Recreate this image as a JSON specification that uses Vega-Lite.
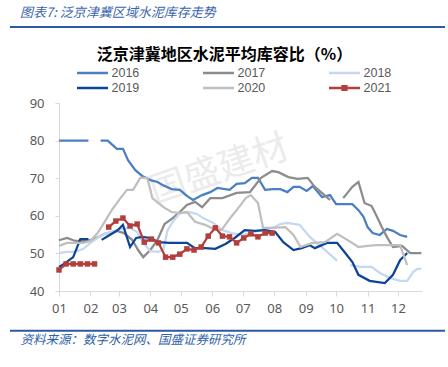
{
"$schema":"https://vega.github.io/schema/vega-lite/v6.json",
"width":363,"height":188,
"autosize":{"type":"none"},
"padding":{"left":59,"top":103,"right":26,"bottom":76},
"background":"white",
"config":{"view":{"stroke":null},"font":"Noto Sans","axis":{"labelOverlap":false,"labelSeparation":0}},
"data":{"values":[
{"year":"2016","d":0,"v":80},{"year":"2016","d":29,"v":80},{"year":"2016","d":35,"v":null},{"year":"2016","d":41,"v":80},{"year":"2016","d":48,"v":80},{"year":"2016","d":57,"v":77.8},{"year":"2016","d":63,"v":77.8},{"year":"2016","d":68,"v":74.8},{"year":"2016","d":75,"v":72.2},{"year":"2016","d":82,"v":70.6},{"year":"2016","d":90,"v":69.5},{"year":"2016","d":97,"v":69.0},{"year":"2016","d":102,"v":68.2},{"year":"2016","d":111,"v":67.1},{"year":"2016","d":119,"v":66.9},{"year":"2016","d":126,"v":65.3},{"year":"2016","d":132,"v":64.2},{"year":"2016","d":141,"v":65.5},{"year":"2016","d":149,"v":66.3},{"year":"2016","d":156,"v":67.4},{"year":"2016","d":168,"v":66.9},{"year":"2016","d":175,"v":68.5},{"year":"2016","d":183,"v":68.7},{"year":"2016","d":190,"v":70.1},{"year":"2016","d":196,"v":70.1},{"year":"2016","d":203,"v":66.9},{"year":"2016","d":211,"v":67.1},{"year":"2016","d":218,"v":67.1},{"year":"2016","d":225,"v":66.3},{"year":"2016","d":231,"v":67.7},{"year":"2016","d":237,"v":67.7},{"year":"2016","d":244,"v":66.6},{"year":"2016","d":250,"v":67.9},{"year":"2016","d":259,"v":65.0},{"year":"2016","d":267,"v":65.5},{"year":"2016","d":273,"v":63.1},{"year":"2016","d":289,"v":63.1},{"year":"2016","d":295,"v":61.5},{"year":"2016","d":300,"v":59.7},{"year":"2016","d":304,"v":57.0},{"year":"2016","d":309,"v":55.4},{"year":"2016","d":316,"v":54.9},{"year":"2016","d":323,"v":56.5},{"year":"2016","d":329,"v":56.0},{"year":"2016","d":336,"v":54.9},{"year":"2016","d":343,"v":54.4},
{"year":"2017","d":0,"v":53.5},{"year":"2017","d":8,"v":54.1},{"year":"2017","d":16,"v":53.3},{"year":"2017","d":26,"v":53.3},{"year":"2017","d":35,"v":53.8},{"year":"2017","d":45,"v":55.2},{"year":"2017","d":57,"v":56.0},{"year":"2017","d":64,"v":55.4},{"year":"2017","d":72,"v":53.6},{"year":"2017","d":78,"v":50.9},{"year":"2017","d":83,"v":49.0},{"year":"2017","d":90,"v":50.9},{"year":"2017","d":97,"v":53.6},{"year":"2017","d":104,"v":57.8},{"year":"2017","d":112,"v":59.4},{"year":"2017","d":119,"v":61.0},{"year":"2017","d":126,"v":62.9},{"year":"2017","d":134,"v":63.7},{"year":"2017","d":141,"v":62.3},{"year":"2017","d":149,"v":64.7},{"year":"2017","d":161,"v":64.7},{"year":"2017","d":167,"v":65.3},{"year":"2017","d":175,"v":66.1},{"year":"2017","d":188,"v":66.3},{"year":"2017","d":193,"v":68.0},{"year":"2017","d":199,"v":70.1},{"year":"2017","d":210,"v":71.9},{"year":"2017","d":216,"v":71.6},{"year":"2017","d":226,"v":70.3},{"year":"2017","d":235,"v":69.8},{"year":"2017","d":245,"v":70.1},{"year":"2017","d":252,"v":67.7},{"year":"2017","d":259,"v":66.1},{"year":"2017","d":267,"v":64.2},{"year":"2017","d":274,"v":null},{"year":"2017","d":280,"v":64.7},{"year":"2017","d":289,"v":67.7},{"year":"2017","d":295,"v":69.0},{"year":"2017","d":301,"v":63.4},{"year":"2017","d":308,"v":62.6},{"year":"2017","d":313,"v":59.9},{"year":"2017","d":318,"v":57.0},{"year":"2017","d":323,"v":54.4},{"year":"2017","d":329,"v":51.7},{"year":"2017","d":338,"v":52.0},{"year":"2017","d":346,"v":50.1},{"year":"2017","d":357,"v":50.1},
{"year":"2018","d":0,"v":50.1},{"year":"2018","d":8,"v":50.4},{"year":"2018","d":16,"v":50.4},{"year":"2018","d":24,"v":51.2},{"year":"2018","d":31,"v":52.8},{"year":"2018","d":38,"v":54.1},{"year":"2018","d":45,"v":55.2},{"year":"2018","d":55,"v":56.0},{"year":"2018","d":62,"v":56.5},{"year":"2018","d":70,"v":56.8},{"year":"2018","d":77,"v":55.7},{"year":"2018","d":83,"v":52.8},{"year":"2018","d":90,"v":50.6},{"year":"2018","d":98,"v":50.4},{"year":"2018","d":103,"v":51.2},{"year":"2018","d":107,"v":56.2},{"year":"2018","d":112,"v":58.4},{"year":"2018","d":119,"v":60.7},{"year":"2018","d":129,"v":61.0},{"year":"2018","d":136,"v":60.5},{"year":"2018","d":142,"v":59.4},{"year":"2018","d":152,"v":58.1},{"year":"2018","d":161,"v":56.2},{"year":"2018","d":170,"v":55.4},{"year":"2018","d":180,"v":54.9},{"year":"2018","d":188,"v":55.4},{"year":"2018","d":196,"v":56.0},{"year":"2018","d":203,"v":56.5},{"year":"2018","d":211,"v":56.8},{"year":"2018","d":218,"v":57.8},{"year":"2018","d":225,"v":58.1},{"year":"2018","d":237,"v":57.6},{"year":"2018","d":247,"v":54.4},{"year":"2018","d":260,"v":51.4},{"year":"2018","d":274,"v":48.0},{"year":"2018","d":280,"v":null},{"year":"2018","d":287,"v":46.9},{"year":"2018","d":297,"v":46.4},{"year":"2018","d":308,"v":46.4},{"year":"2018","d":316,"v":44.8},{"year":"2018","d":326,"v":43.5},{"year":"2018","d":336,"v":42.7},{"year":"2018","d":343,"v":42.7},{"year":"2018","d":349,"v":45.1},{"year":"2018","d":353,"v":45.9},{"year":"2018","d":357,"v":45.9},
{"year":"2019","d":0,"v":46.4},{"year":"2019","d":6,"v":47.4},{"year":"2019","d":14,"v":49.0},{"year":"2019","d":21,"v":53.8},{"year":"2019","d":29,"v":53.8},{"year":"2019","d":35,"v":null},{"year":"2019","d":42,"v":53.6},{"year":"2019","d":50,"v":54.9},{"year":"2019","d":58,"v":56.2},{"year":"2019","d":63,"v":57.6},{"year":"2019","d":70,"v":51.7},{"year":"2019","d":76,"v":54.1},{"year":"2019","d":82,"v":54.4},{"year":"2019","d":90,"v":54.1},{"year":"2019","d":98,"v":53.0},{"year":"2019","d":109,"v":52.8},{"year":"2019","d":119,"v":52.8},{"year":"2019","d":126,"v":52.8},{"year":"2019","d":134,"v":51.4},{"year":"2019","d":144,"v":51.4},{"year":"2019","d":154,"v":51.2},{"year":"2019","d":164,"v":52.5},{"year":"2019","d":173,"v":54.1},{"year":"2019","d":183,"v":56.2},{"year":"2019","d":193,"v":56.0},{"year":"2019","d":203,"v":56.2},{"year":"2019","d":213,"v":55.7},{"year":"2019","d":221,"v":53.0},{"year":"2019","d":231,"v":50.9},{"year":"2019","d":239,"v":51.4},{"year":"2019","d":247,"v":52.2},{"year":"2019","d":252,"v":51.4},{"year":"2019","d":264,"v":52.8},{"year":"2019","d":274,"v":52.8},{"year":"2019","d":282,"v":50.1},{"year":"2019","d":289,"v":47.7},{"year":"2019","d":295,"v":44.3},{"year":"2019","d":306,"v":42.7},{"year":"2019","d":321,"v":42.1},{"year":"2019","d":329,"v":44.3},{"year":"2019","d":336,"v":48.2},{"year":"2019","d":343,"v":50.1},
{"year":"2020","d":0,"v":52.0},{"year":"2020","d":8,"v":52.8},{"year":"2020","d":16,"v":52.8},{"year":"2020","d":24,"v":52.8},{"year":"2020","d":31,"v":53.3},{"year":"2020","d":38,"v":55.4},{"year":"2020","d":45,"v":58.4},{"year":"2020","d":52,"v":61.5},{"year":"2020","d":60,"v":64.5},{"year":"2020","d":67,"v":66.9},{"year":"2020","d":73,"v":66.9},{"year":"2020","d":80,"v":70.1},{"year":"2020","d":87,"v":70.1},{"year":"2020","d":92,"v":64.7},{"year":"2020","d":98,"v":63.4},{"year":"2020","d":104,"v":62.1},{"year":"2020","d":111,"v":61.0},{"year":"2020","d":119,"v":60.7},{"year":"2020","d":126,"v":61.0},{"year":"2020","d":134,"v":58.4},{"year":"2020","d":144,"v":57.6},{"year":"2020","d":150,"v":56.8},{"year":"2020","d":160,"v":56.2},{"year":"2020","d":169,"v":59.5},{"year":"2020","d":179,"v":62.9},{"year":"2020","d":184,"v":64.7},{"year":"2020","d":189,"v":65.5},{"year":"2020","d":196,"v":63.4},{"year":"2020","d":201,"v":56.8},{"year":"2020","d":209,"v":56.8},{"year":"2020","d":223,"v":57.0},{"year":"2020","d":231,"v":54.9},{"year":"2020","d":238,"v":51.7},{"year":"2020","d":250,"v":52.8},{"year":"2020","d":262,"v":53.0},{"year":"2020","d":274,"v":55.2},{"year":"2020","d":284,"v":53.6},{"year":"2020","d":295,"v":51.7},{"year":"2020","d":304,"v":52.0},{"year":"2020","d":313,"v":52.2},{"year":"2020","d":324,"v":52.2},{"year":"2020","d":336,"v":52.2},{"year":"2020","d":343,"v":46.9},
{"year":"2021","d":0,"v":45.6},{"year":"2021","d":7,"v":47.2},{"year":"2021","d":14,"v":47.2},{"year":"2021","d":21,"v":47.2},{"year":"2021","d":28,"v":47.2},{"year":"2021","d":35,"v":47.2},{"year":"2021","d":42,"v":null},{"year":"2021","d":49,"v":57.0},{"year":"2021","d":56,"v":58.6},{"year":"2021","d":63,"v":59.4},{"year":"2021","d":70,"v":57.3},{"year":"2021","d":77,"v":57.8},{"year":"2021","d":84,"v":53.0},{"year":"2021","d":91,"v":53.8},{"year":"2021","d":98,"v":52.8},{"year":"2021","d":105,"v":49.0},{"year":"2021","d":112,"v":49.0},{"year":"2021","d":119,"v":49.8},{"year":"2021","d":126,"v":51.2},{"year":"2021","d":133,"v":50.9},{"year":"2021","d":140,"v":51.7},{"year":"2021","d":147,"v":54.6},{"year":"2021","d":154,"v":56.8},{"year":"2021","d":161,"v":54.6},{"year":"2021","d":168,"v":54.4},{"year":"2021","d":175,"v":52.8},{"year":"2021","d":182,"v":54.1},{"year":"2021","d":189,"v":55.2},{"year":"2021","d":196,"v":54.4},{"year":"2021","d":203,"v":55.4},{"year":"2021","d":210,"v":55.4}
]},
"layer":[
{"data":{"values":[{"pos":"top"}]},
 "mark":{"type":"rule","color":"#2b5aa6","strokeWidth":2},
 "encoding":{"x":{"datum":-48.3,"type":"quantitative","scale":{"domain":[0,357.6],"nice":false,"zero":false}},"x2":{"datum":380.3},"y":{"datum":110.2,"type":"quantitative","scale":{"domain":[40,90],"nice":false,"zero":false}}}},
{"data":{"values":[{"pos":"top-band"}]},
 "mark":{"type":"tick","orient":"horizontal","size":435,"thickness":2,"color":"#2b5aa6","opacity":1},
 "encoding":{"x":{"datum":166,"type":"quantitative"},"y":{"datum":110.2,"type":"quantitative"}}},
{"data":{"values":[{"pos":"bottom"}]},
 "mark":{"type":"rule","color":"#2b5aa6","strokeWidth":2},
 "encoding":{"x":{"datum":-48.3,"type":"quantitative"},"x2":{"datum":380.3},"y":{"datum":29.4,"type":"quantitative"}}},
{"data":{"values":[{"label":"header"}]},
 "mark":{"type":"text","text":"图表7: 泛京津冀区域水泥库存走势","align":"left","baseline":"middle","font":"Noto Sans CJK SC","fontSize":13,"fontStyle":"italic","color":"#3a65b0"},
 "encoding":{"x":{"datum":-38.4,"type":"quantitative"},"y":{"datum":113.9,"type":"quantitative"}}},
{"data":{"values":[{}]},
 "mark":{"type":"text","text":"国盛建材","angle":-19,"fontSize":36,"font":"Noto Sans CJK SC","color":"#dcdcdc","opacity":0.55,"align":"center","baseline":"middle"},
 "encoding":{"x":{"datum":158,"type":"quantitative"},"y":{"datum":72.2,"type":"quantitative"}}},
{"mark":{"type":"line","strokeWidth":2.25,"invalid":"break-paths-filter-domains"},
 "encoding":{
  "x":{"field":"d","type":"quantitative","scale":{"domain":[0,357.6],"nice":false,"zero":false},
   "axis":{"values":[0,31,59,90,120,151,181,212,243,273,304,334],"tickCount":24,"labelExpr":"timeFormat(datetime(2021,0,1+datum.value),'%m')","grid":false,"domainColor":"#d9d9d9","tickColor":"#d9d9d9","tickSize":5,"labelPadding":6,"labelFont":"Noto Sans","labelFontSize":13,"labelColor":"#595959","labelFlush":false,"labelOverlap":false,
    "title":"资料来源：数字水泥网、国盛证券研究所","titleX":-39,"titleY":48.5,"titleAlign":"left","titleBaseline":"middle","titleFont":"Noto Sans CJK SC","titleFontSize":12.5,"titleFontStyle":"italic","titleFontWeight":"normal","titleColor":"#2f5fa8","titleLimit":400}},
  "y":{"field":"v","type":"quantitative","scale":{"domain":[40,90],"nice":false,"zero":false},
   "axis":{"values":[40,50,60,70,80,90],"tickCount":12,"grid":false,"domainColor":"#d9d9d9","tickColor":"#d9d9d9","tickSize":4,"labelPadding":11,"labelFont":"Noto Sans","labelFontSize":13,"labelColor":"#595959","labelFlush":false,"labelOverlap":false,"title":null}},
  "color":{"field":"year","type":"nominal",
   "scale":{"domain":["2016","2017","2018","2019","2020","2021"],"range":["#4a7fc1","#8c8c8c","#c5d8ef","#0c4597","#bfbfbf","#b33f3c"]},
   "legend":{"orient":"none","legendX":16.5,"legendY":-56,"direction":"horizontal","columns":3,"padding":0,
    "title":"泛京津冀地区水泥平均库容比（%）","titleFont":"Noto Sans CJK SC","titleFontSize":16,"titleFontWeight":"bold","titleColor":"#000000","titleAnchor":"middle","titlePadding":3,"titleLimit":500,
    "symbolType":"stroke","symbolSize":961,"symbolStrokeWidth":2.5,
    "labelFont":"Liberation Sans","labelFontSize":12.5,"labelColor":"#595959","labelOffset":2,
    "columnPadding":62,"rowPadding":1,"clipHeight":14,
    "encode":{"title":{"update":{"dx":{"value":-9}}},
     "symbols":{"update":{"shape":[{"test":"datum.value === '2021'","value":"M-1,0L1,0M-0.12,-0.12L0.12,-0.12L0.12,0.12L-0.12,0.12Z"},{"value":"stroke"}]}}}}}
 }},
{"transform":[{"filter":"datum.year === '2021'"}],
 "mark":{"type":"point","shape":"square","filled":true,"size":30,"opacity":1,"color":"#b33f3c"},
 "encoding":{"x":{"field":"d","type":"quantitative"},"y":{"field":"v","type":"quantitative"}}}
]
}
